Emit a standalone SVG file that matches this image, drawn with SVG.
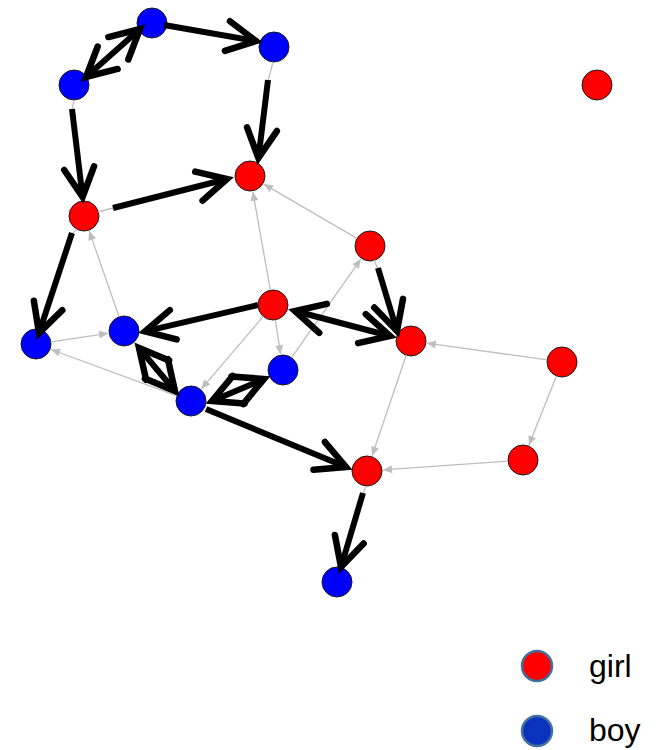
<svg xmlns="http://www.w3.org/2000/svg" width="656" height="750" viewBox="0 0 656 750">
  <style>
    .girl { fill: #ff0000; stroke: #1a1a1a; stroke-width: 1; }
    .boy { fill: #0000ff; stroke: #1a1a1a; stroke-width: 1; }
    .weak { stroke: #bebebe; stroke-width: 1.3; fill: none; }
    .weak-arrow { marker-end: url(#grayHead); }
    .strong { stroke: #000; stroke-width: 6; fill: none; marker-end: url(#blackHead); }
    .both { marker-start: url(#blackHead); }
    .legend-text { font-family: "Liberation Sans", Arial, sans-serif; font-size: 32px; fill: #000; }
  </style>
  <defs>
    <marker id="blackHead" markerUnits="userSpaceOnUse" markerWidth="40" markerHeight="40" refX="0" refY="0" orient="auto-start-reverse" style="overflow:visible">
      <path d="M-29,-15 L0,0 L-29,15" fill="none" stroke="#000" stroke-width="6.5" stroke-linecap="round" stroke-linejoin="miter"/>
    </marker>
    <marker id="grayHead" markerUnits="userSpaceOnUse" markerWidth="12" markerHeight="12" refX="0" refY="0" orient="auto" style="overflow:visible">
      <path d="M-9,-4 L0,0 L-9,4 Z" fill="#bebebe"/>
    </marker>
  </defs>

  <rect width="656" height="750" fill="#ffffff"/>

  <!-- vertices -->
  <g id="nodes">
    <g id="b1"><circle class="boy" cx="152" cy="23" r="15"/></g>
    <g id="b2"><circle class="boy" cx="274" cy="47" r="15"/></g>
    <g id="b3"><circle class="boy" cx="74" cy="85" r="15"/></g>
    <g id="b4"><circle class="boy" cx="36" cy="344" r="15"/></g>
    <g id="b5"><circle class="boy" cx="124" cy="331" r="15"/></g>
    <g id="b6"><circle class="boy" cx="283" cy="370" r="15"/></g>
    <g id="b7"><circle class="boy" cx="191" cy="401" r="15"/></g>
    <g id="b8"><circle class="boy" cx="337" cy="582" r="15"/></g>
    <g id="r1"><circle class="girl" cx="597" cy="85" r="15"/></g>
    <g id="r2"><circle class="girl" cx="250" cy="176" r="15"/></g>
    <g id="r3"><circle class="girl" cx="84" cy="216" r="15"/></g>
    <g id="r4"><circle class="girl" cx="370" cy="246" r="15"/></g>
    <g id="r5"><circle class="girl" cx="273" cy="305" r="15"/></g>
    <g id="r6"><circle class="girl" cx="411" cy="341" r="15"/></g>
    <g id="r7"><circle class="girl" cx="562" cy="362" r="15"/></g>
    <g id="r8"><circle class="girl" cx="523" cy="460" r="15"/></g>
    <g id="r9"><circle class="girl" cx="367" cy="471" r="15"/></g>
  </g>

  <!-- ties: thin gray for all, thick black for the highlighted ones -->
  <g id="connectors">
    <g id="weak-ties">
      <line class="weak weak-arrow" x1="270.4" y1="290.2" x2="252.8" y2="191.8"/>
      <line class="weak weak-arrow" x1="357" y1="238.4" x2="263.8" y2="184.1"/>
      <line class="weak weak-arrow" x1="119.1" y1="316.8" x2="89.2" y2="231.1"/>
      <line class="weak weak-arrow" x1="50.8" y1="341.8" x2="108.2" y2="333.3"/>
      <line class="weak weak-arrow" x1="176.9" y1="395.8" x2="51" y2="349.5"/>
      <line class="weak weak-arrow" x1="275.3" y1="319.8" x2="280.6" y2="354.2"/>
      <line class="weak weak-arrow" x1="263.3" y1="316.4" x2="201.4" y2="388.8"/>
      <line class="weak weak-arrow" x1="291.6" y1="357.7" x2="360.8" y2="259.1"/>
      <line class="weak weak-arrow" x1="547.2" y1="359.9" x2="426.8" y2="343.2"/>
      <line class="weak weak-arrow" x1="406.2" y1="355.2" x2="372.1" y2="455.8"/>
      <line class="weak weak-arrow" x1="556.5" y1="375.9" x2="528.9" y2="445.1"/>
      <line class="weak weak-arrow" x1="508" y1="461.1" x2="383" y2="469.9"/>
      <!-- gray stubs showing where a thick tie starts off its node -->
      <line class="weak" x1="273" y1="62" x2="268" y2="81"/>
      <line class="weak" x1="74" y1="100" x2="72" y2="110"/>
      <line class="weak" x1="98" y1="212" x2="113" y2="208"/>
      <line class="weak" x1="77" y1="229" x2="72" y2="234"/>
      <line class="weak" x1="374" y1="260" x2="378" y2="269"/>
      <line class="weak" x1="366" y1="486" x2="363" y2="494"/>
    </g>
    <g id="strong-ties">
      <line class="strong both" x1="86" y1="77" x2="140" y2="29"/>
      <line class="strong" x1="164" y1="25" x2="256" y2="41"/>
      <line class="strong" x1="268" y1="80" x2="258.4" y2="158"/>
      <line class="strong" x1="72" y1="109" x2="82.6" y2="197"/>
      <line class="strong" x1="113" y1="208" x2="227" y2="179"/>
      <line class="strong" x1="72" y1="233" x2="39" y2="333"/>
      <line class="strong" x1="258" y1="305" x2="145" y2="331.3"/>
      <line class="strong both" x1="295" y1="311" x2="390" y2="336"/>
      <line class="strong" x1="378" y1="268" x2="397" y2="331"/>
      <line class="strong" x1="206" y1="409" x2="346" y2="467"/>
      <line class="strong" x1="363" y1="493" x2="341" y2="567"/>
      <line class="strong both" x1="139" y1="348" x2="175" y2="391"/>
      <line class="strong both" x1="212" y1="401" x2="264" y2="379"/>
    </g>
  </g>

  <!-- legend -->
  <g id="legend">
    <circle cx="537" cy="666" r="15" fill="#ff0000" stroke="#41719c" stroke-width="2.5"/>
    <text class="legend-text" x="589" y="677">girl</text>
    <circle cx="537" cy="731" r="15" fill="#0b31bf" stroke="#41719c" stroke-width="2.5"/>
    <text class="legend-text" x="589" y="741">boy</text>
  </g>
</svg>
